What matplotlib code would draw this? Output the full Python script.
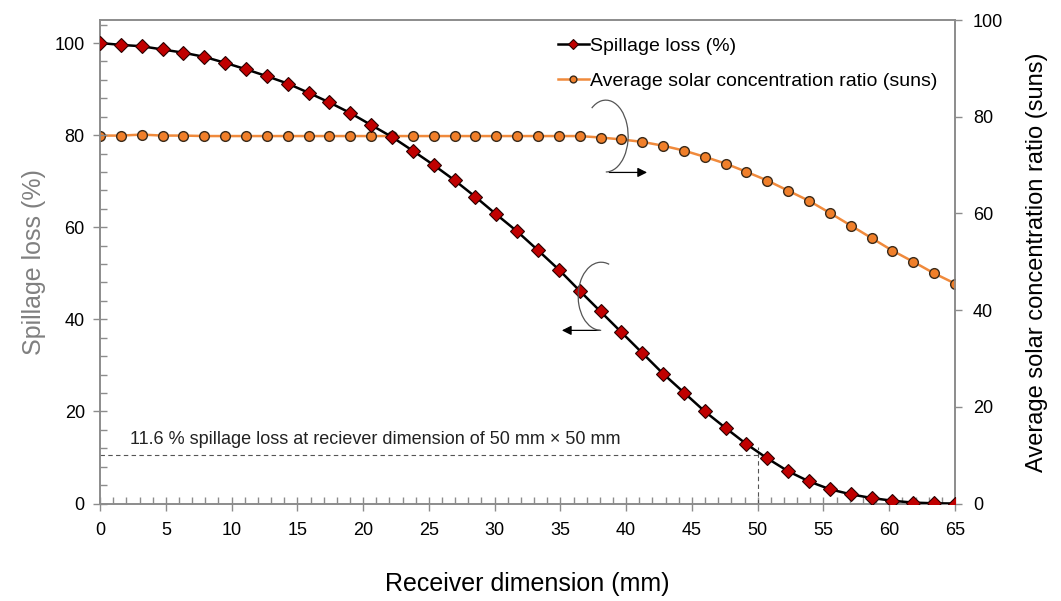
import matplotlib.pyplot as plt
import numpy as np
from matplotlib.patches import Arc
from matplotlib.ticker import MultipleLocator

plt.rcParams['font.family'] = ['Liberation Sans', 'DejaVu Sans']

# receiver dimension (mm), 42 evenly spaced points from 0 to 65
dimension = np.linspace(0, 65, 42)

spillage = [
    100.0, 99.6, 99.3, 98.6, 97.9, 97.0, 95.7, 94.3, 92.8, 91.2,
    89.2, 87.1, 84.8, 82.2, 79.6, 76.6, 73.5, 70.2, 66.6, 62.8,
    59.1, 55.0, 50.8, 46.2, 41.7, 37.2, 32.7, 28.2, 24.1, 20.0,
    16.4, 12.9, 9.8, 7.0, 4.8, 3.1, 2.0, 1.2, 0.6, 0.2,
    0.05, 0.0,
]

concentration = [
    76.1, 76.1, 76.3, 76.1, 76.1, 76.0, 76.0, 76.0, 76.0, 76.0,
    76.0, 76.0, 76.0, 76.0, 76.0, 76.0, 76.0, 76.0, 76.0, 76.0,
    76.0, 76.0, 76.0, 76.0, 75.7, 75.3, 74.8, 74.0, 73.0, 71.7,
    70.3, 68.6, 66.8, 64.7, 62.6, 60.1, 57.5, 54.9, 52.3, 50.0,
    47.6, 45.5,
]

mark_dim = 50
mark_loss = 10.6
note = '11.6 % spillage loss at reciever dimension of 50 mm \u00d7 50 mm'

axis_grey = '#8c8c8c'

fig = plt.figure(figsize=(10.61, 6.01), dpi=100)
ax = fig.add_axes([0.0943, 0.1622, 0.8058, 0.8045])
ax2 = ax.twinx()

l1, = ax.plot(dimension, spillage, color='black', lw=1.8, marker='D',
              ms=7.5, mfc='#c00000', mec='#2a0000', mew=0.8,
              label='Spillage loss (%)', zorder=4)
l2, = ax2.plot(dimension, concentration, color='#f08a3c', lw=1.8, marker='o',
               ms=7, mfc='#f07f2a', mec='#3a2a1a', mew=1.0,
               label='Average solar concentration ratio (suns)', zorder=3)

# marker lines for 50 mm
ax.plot([0, mark_dim], [mark_loss, mark_loss], color='#555555', lw=0.8,
        ls=(0, (4, 3)), zorder=2)
ax.plot([mark_dim, mark_dim], [0, 12.3], color='#555555', lw=0.8,
        ls=(0, (4, 3)), zorder=2)
ax.text(2.3, 14.0, note, fontsize=13, va='center', ha='left', color='#222222')

# curved arrows pointing to the matching axis
ax.add_patch(Arc((38.45, 79.8), 3.4, 15.6, theta1=-90, theta2=100,
                 color='#555555', lw=0.9, zorder=5))
ax.annotate('', xy=(41.8, 71.9), xytext=(38.5, 71.9),
            arrowprops=dict(arrowstyle='-|>', color='black', lw=0.9,
                            mutation_scale=14))
ax.add_patch(Arc((38.1, 45.0), 3.5, 14.8, theta1=85, theta2=270,
                 color='#555555', lw=0.9, zorder=5))
ax.annotate('', xy=(34.9, 37.6), xytext=(38.2, 37.6),
            arrowprops=dict(arrowstyle='-|>', color='black', lw=0.9,
                            mutation_scale=14))

ax.set_xlim(0, 65)
ax.set_ylim(0, 105)
ax2.set_ylim(0, 100)

ax.xaxis.set_major_locator(MultipleLocator(5))
ax.xaxis.set_minor_locator(MultipleLocator(1))
ax.yaxis.set_major_locator(MultipleLocator(20))
ax.yaxis.set_minor_locator(MultipleLocator(4))
ax2.yaxis.set_major_locator(MultipleLocator(20))

for a in (ax, ax2):
    for s in a.spines.values():
        s.set_color(axis_grey)
        s.set_linewidth(1.2)

ax.tick_params(axis='both', which='major', direction='inout', length=10,
               width=1.0, color=axis_grey, labelsize=13)
ax.tick_params(axis='x', which='major', pad=8)
ax.tick_params(axis='y', which='major', pad=6)
ax.tick_params(axis='both', which='minor', direction='in', length=5,
               width=1.0, color=axis_grey)
ax2.tick_params(axis='y', which='major', direction='out', length=5,
                width=1.0, color=axis_grey, labelsize=13, pad=8)

ax.set_xlabel('Receiver dimension (mm)', fontsize=18, labelpad=24)
ax.set_ylabel('Spillage loss (%)', fontsize=18, color='#808080', labelpad=6)
ax2.set_ylabel('Average solar concentration ratio (suns)', fontsize=17,
               labelpad=16)

ax.set_zorder(ax2.get_zorder() + 1)
ax.patch.set_visible(False)

ax.legend([l1, l2], [l1.get_label(), l2.get_label()], loc='upper left',
          bbox_to_anchor=(0.515, 1.0), frameon=False, fontsize=14,
          handlelength=1.6, handletextpad=0.05, labelspacing=0.9,
          markerscale=0.7)

fig.savefig('out.png', dpi=100)
